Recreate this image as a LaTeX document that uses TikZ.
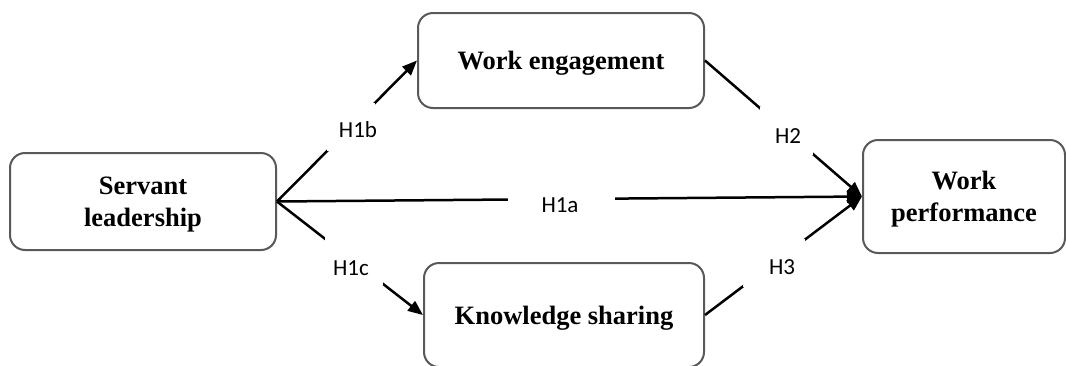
\documentclass[tikz,border=0pt]{standalone}
\usepackage{fontspec}
\setmainfont{Liberation Serif}
\newfontfamily\labfont{Carlito}
\usetikzlibrary{arrows.meta}
\newcommand\dn[1]{\raisebox{-3pt}[\height][\depth]{#1}}
\begin{document}
\begin{tikzpicture}[x=1pt,y=-1pt,
  box/.style={draw=black!65, line width=2pt, rounded corners=15pt, fill=white,
    align=center, inner sep=0pt, font=\fontsize{26.5}{32}\selectfont\bfseries},
  arr/.style={line width=2.5pt, -{Triangle[length=15pt,width=12pt]}},
  gap/.style={fill=white, inner sep=0pt},
  labtxt/.style={inner sep=0pt, font=\labfont\fontsize{23}{26}\selectfont}]
\useasboundingbox (0,0) rectangle (1066,365);
\node[box, minimum width=266pt, minimum height=97pt] (SL) at (143,201.5) {\dn{Servant}\\\dn{leadership}};
\node[box, minimum width=286pt, minimum height=95pt] (WE) at (561,60.5) {\dn{Work engagement}};
\node[box, minimum width=202pt, minimum height=113pt] (WP) at (964,196.5) {\dn{Work}\\\dn{performance}};
\node[box, minimum width=280pt, minimum height=104pt] (KS) at (564,315) {\dn{Knowledge sharing}};
\draw[arr] (SL.east) -- node[gap, pos=0.53, minimum width=48pt, minimum height=48pt] (g1b) {} (WE.west);
\draw[arr] (SL.east) -- node[gap, pos=0.486, minimum width=107pt, minimum height=30pt] (g1a) {} (WP.west);
\draw[arr] (SL.east) -- node[gap, pos=0.527, minimum width=58pt, minimum height=50pt] (g1c) {} (KS.west);
\draw[arr] (WE.east) -- node[gap, pos=0.516, minimum width=53pt, minimum height=48pt] (g2) {} (WP.west);
\draw[arr] (KS.east) -- node[gap, pos=0.44, minimum width=62pt, minimum height=48pt] (g3) {} (WP.west);
\node[labtxt] (l1b) at (358,130) {H1b};
\node[labtxt] (l1a) at (560,205) {H1a};
\node[labtxt] (l1c) at (351,268) {H1c};
\node[labtxt] (l2) at (788,136) {H2};
\node[labtxt] (l3) at (782,267) {H3};
\end{tikzpicture}
\end{document}
